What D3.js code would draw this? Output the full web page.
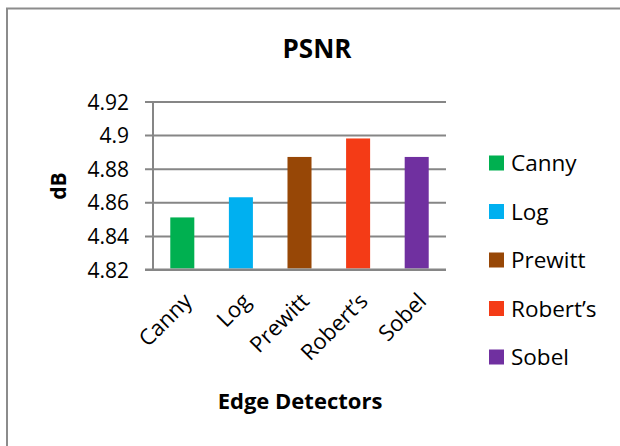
<!DOCTYPE html>
<html>
<head>
<meta charset="utf-8">
<script src="https://cdn.jsdelivr.net/npm/d3@7"></script>
<style>
  html, body { margin: 0; padding: 0; background: #fff; }
  svg { display: block; }
  text { font-family: "Open Sans", "Noto Sans", sans-serif; fill: #000; }
</style>
</head>
<body>
<svg id="chart" width="620" height="446"></svg>
<script>
// ---- data ----
const categories = ["Canny", "Log", "Prewitt", "Robert\u2019s", "Sobel"];
const values = [4.851, 4.863, 4.887, 4.898, 4.887];
const colors = ["#00B050", "#00B0F0", "#974706", "#F43B16", "#7030A0"];
const yTicks = [4.82, 4.84, 4.86, 4.88, 4.9, 4.92];
const yTickLabels = ["4.82", "4.84", "4.86", "4.88", "4.9", "4.92"];
const title = "PSNR";
const xTitle = "Edge Detectors";
const yTitle = "dB";

// ---- layout ----
const svg = d3.select("#chart");
const plot = { left: 153, right: 446, top: 101.5, bottom: 269.5 };
const gridColor = "#868686";

// outer chart border (top and left visible)
svg.append("path")
  .attr("d", "M7,446 L7,8.5 L620,8.5")
  .attr("fill", "none")
  .attr("stroke", "#8c8c8c")
  .attr("stroke-width", 2);

const x = d3.scaleBand()
  .domain(categories)
  .range([plot.left, plot.right])
  .paddingInner(0.59)
  .paddingOuter(0.295);

const y = d3.scaleLinear()
  .domain([4.82, 4.92])
  .range([plot.bottom, plot.top]);

// gridlines + y axis
const yAxis = d3.axisLeft(y)
  .tickValues(yTicks)
  .tickSize(-(plot.right - plot.left))
  .tickSizeOuter(0)
  .tickFormat((d, i) => yTickLabels[i]);

const gy = svg.append("g")
  .attr("transform", `translate(${plot.left},0)`)
  .call(yAxis);
gy.select(".domain").remove();
gy.selectAll(".tick line")
  .attr("x1", -8)
  .attr("stroke", gridColor)
  .attr("stroke-width", 2);
gy.selectAll(".tick text")
  .attr("x", -24)
  .attr("dy", "0.36em")
  .attr("font-size", 21)
  .attr("fill", "#000");

// vertical axis line
svg.append("line")
  .attr("x1", plot.left).attr("x2", plot.left)
  .attr("y1", plot.top).attr("y2", plot.bottom + 1)
  .attr("stroke", gridColor)
  .attr("stroke-width", 2);

// bars
svg.append("g").selectAll("rect")
  .data(categories)
  .join("rect")
  .attr("x", d => x(d))
  .attr("width", x.bandwidth())
  .attr("y", (d, i) => y(values[i]))
  .attr("height", (d, i) => y(4.82) - y(values[i]) - 1)
  .attr("fill", (d, i) => colors[i]);

// redraw baseline over bars
svg.append("line")
  .attr("x1", plot.left - 8).attr("x2", plot.right)
  .attr("y1", y(4.82)).attr("y2", y(4.82))
  .attr("stroke", gridColor)
  .attr("stroke-width", 2);

// x labels rotated
svg.append("g").selectAll("text")
  .data(categories)
  .join("text")
  .attr("transform", d => `translate(${x(d) + x.bandwidth() / 2 + 11},${plot.bottom + 33}) rotate(-45)`)
  .attr("text-anchor", "end")
  .attr("font-size", 22)
  .text(d => d);

// title
svg.append("text")
  .attr("x", 317).attr("y", 58)
  .attr("text-anchor", "middle")
  .attr("font-size", 26)
  .attr("font-weight", "bold")
  .text(title);

// x axis title
svg.append("text")
  .attr("x", 300).attr("y", 409)
  .attr("text-anchor", "middle")
  .attr("font-size", 22)
  .attr("font-weight", "bold")
  .text(xTitle);

// y axis title
svg.append("text")
  .attr("transform", "translate(66,186) rotate(-90)")
  .attr("text-anchor", "middle")
  .attr("font-size", 21)
  .attr("font-weight", "bold")
  .text(yTitle);

// legend
const ly = d3.scalePoint()
  .domain(categories)
  .range([163, 357]);
const lg = svg.append("g").selectAll("g")
  .data(categories)
  .join("g")
  .attr("transform", d => `translate(489,${ly(d)})`);
lg.append("rect")
  .attr("x", 0).attr("y", -7.5)
  .attr("width", 15).attr("height", 15)
  .attr("fill", (d, i) => colors[i]);
lg.append("text")
  .attr("x", 22).attr("y", 0)
  .attr("dy", "0.36em")
  .attr("font-size", 22.5)
  .text(d => d);
</script>
</body>
</html>
